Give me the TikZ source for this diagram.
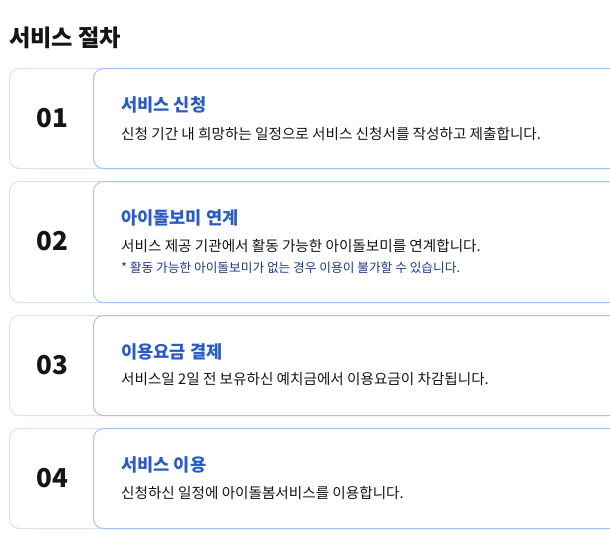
\documentclass[tikz,border=0pt]{standalone}
\usepackage{fontspec}
\usepackage{xcolor}
\usepackage{tikz}
\setmainfont{Noto Sans CJK KR}
\definecolor{stepblue}{HTML}{2B5CC4}
\definecolor{notenavy}{HTML}{1E3A8A}
\definecolor{lightline}{HTML}{D6E3FB}
\definecolor{boxline}{HTML}{A7C3F3}
\definecolor{inkblack}{HTML}{151515}
\pgfdeclarelayer{boxlayer}
\pgfdeclarelayer{textlayer}
\pgfsetlayers{main,boxlayer,textlayer}
\tikzstyle{outer box}=[draw=lightline, fill=white, rounded corners=10pt, line width=1pt, minimum width=640pt, minimum height=100pt, anchor=north west, inner sep=0pt]
\tikzstyle{inner box}=[draw=boxline, fill=white, rounded corners=10pt, line width=1pt, minimum width=560pt, minimum height=100pt, anchor=north west, inner sep=0pt]
\tikzstyle{number}=[font=\fontsize{26}{30}\selectfont\bfseries, text=inkblack, inner sep=0pt]
\tikzstyle{step title}=[font=\fontsize{17.6}{20}\selectfont\bfseries, text=stepblue, anchor=west, inner sep=0pt]
\tikzstyle{step text}=[font=\fontsize{14.6}{17}\selectfont, text=inkblack, anchor=west, inner sep=0pt]
\tikzstyle{step note}=[font=\fontsize{12.7}{15}\selectfont, text=notenavy, anchor=west, inner sep=0pt]
\tikzstyle{heading}=[font=\fontsize{23.2}{27}\selectfont\bfseries, text=inkblack, anchor=west, inner sep=0pt]

\begin{document}
\begin{tikzpicture}[x=1pt, y=-1pt]
	\clip (0, 0) rectangle (610, 542);
	\fill [white] (0, 0) rectangle (610, 542);
	\begin{pgfonlayer}{boxlayer}
		\node [style=outer box] (0) at (9, 68) {};
		\node [style=inner box] (1) at (93, 68) {};
		\node [style=outer box, minimum height=121pt] (2) at (9, 181) {};
		\node [style=inner box, minimum height=121pt] (3) at (93, 181) {};
		\node [style=outer box] (4) at (9, 315) {};
		\node [style=inner box] (5) at (93, 315) {};
		\node [style=outer box] (6) at (9, 428) {};
		\node [style=inner box] (7) at (93, 428) {};
	\end{pgfonlayer}
	\begin{pgfonlayer}{textlayer}
		\node [style=heading] (title) at (9, 37.5) {서비스 절차};
		% step 01
		\node [style=number] (n1) at (52, 118) {01};
		\node [style=step title] (t1) at (121, 105) {서비스 신청};
		\node [style=step text] (d1) at (121, 133.5) {신청 기간 내 희망하는 일정으로 서비스 신청서를 작성하고 제출합니다.};
		% step 02
		\node [style=number] (n2) at (52, 241.5) {02};
		\node [style=step title] (t2) at (121, 218) {아이돌보미 연계};
		\node [style=step text] (d2) at (121, 245.5) {서비스 제공 기관에서 활동 가능한 아이돌보미를 연계합니다.};
		\node [style=step note] (m2) at (121, 268) {* 활동 가능한 아이돌보미가 없는 경우 이용이 불가할 수 있습니다.};
		% step 03
		\node [style=number] (n3) at (52, 365) {03};
		\node [style=step title] (t3) at (121, 352) {이용요금 결제};
		\node [style=step text] (d3) at (121, 379.5) {서비스일 2일 전 보유하신 예치금에서 이용요금이 차감됩니다.};
		% step 04
		\node [style=number] (n4) at (52, 478) {04};
		\node [style=step title] (t4) at (121, 465) {서비스 이용};
		\node [style=step text] (d4) at (121, 492.5) {신청하신 일정에 아이돌봄서비스를 이용합니다.};
	\end{pgfonlayer}
\end{tikzpicture}
\end{document}
